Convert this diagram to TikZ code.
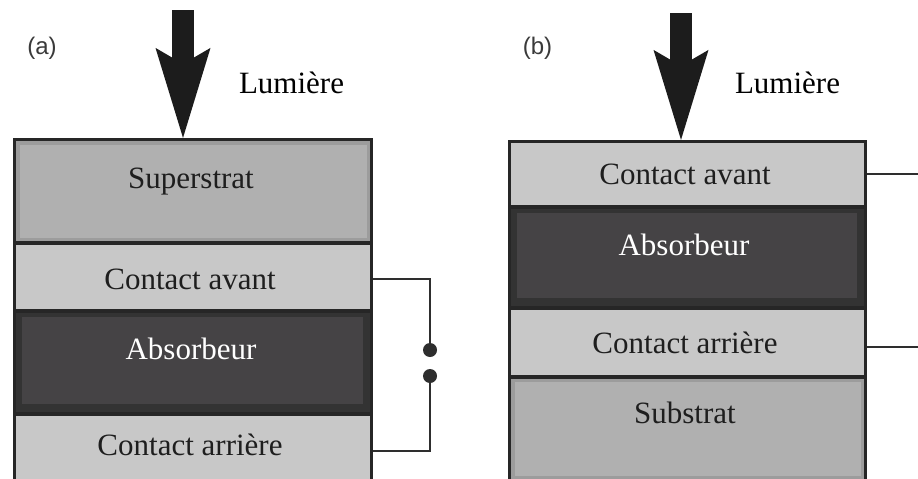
\documentclass[tikz,border=0pt]{standalone}
\usepackage{fontspec}
\setmainfont{Liberation Serif}
\newfontfamily\labfont{Liberation Sans}
\usetikzlibrary{arrows.meta,fit}
\definecolor{bord}{HTML}{262626}
\definecolor{subband}{HTML}{9C9C9C}
\definecolor{subin}{HTML}{B0B0B0}
\definecolor{contc}{HTML}{C8C8C8}
\definecolor{absband}{HTML}{333333}
\definecolor{absin}{HTML}{454345}
\definecolor{wirec}{HTML}{2E2E2E}
\definecolor{arrowc}{HTML}{1C1C1C}
\definecolor{textc}{HTML}{1E1E1E}
\definecolor{panelc}{HTML}{3A3A3A}
\tikzset{
  layer/.style={draw=bord, line width=3.2pt, inner sep=0pt},
  sublayer/.style={layer, fill=subband,
    path picture={\fill[subin] ([shift={(5pt,-5pt)}]path picture bounding box.north west) rectangle ([shift={(-5pt,5pt)}]path picture bounding box.south east);}},
  contlayer/.style={layer, fill=contc},
  abslayer/.style={layer, fill=absband,
    path picture={\fill[absin] ([shift={(7pt,-6pt)}]path picture bounding box.north west) rectangle ([shift={(-9pt,10pt)}]path picture bounding box.south east);}},
  txt/.style={anchor=base, inner sep=0pt, text=textc, font=\fontsize{31}{36}\selectfont},
  wtxt/.style={txt, text=white},
  panel/.style={anchor=base, inner sep=0pt, text=panelc, font=\labfont\fontsize{24}{28}\selectfont},
  wire/.style={draw=wirec, line width=2.2pt},
  dotnode/.style={circle, fill=wirec, minimum size=14pt, inner sep=0pt},
  lightarrow/.style={draw=arrowc, line width=22pt,
    -{Stealth[length=90pt, width=55pt, inset=16pt, line width=0pt]}}
}
\begin{document}
\begin{tikzpicture}[x=1pt,y=-1pt]
\clip (0,0) rectangle (918,479);
\fill[white] (0,0) rectangle (918,479);

% ---------- panel (a) ----------
\node[panel] (pa) at (42,54) {(a)};
\node[sublayer, fit={(14.5,139.5) (371.5,243)}] (a1) {};
\node[contlayer, fit={(14.5,243) (371.5,311)}] (a2) {};
\node[abslayer, fit={(14.5,311) (371.5,414)}] (a3) {};
\node[contlayer, fit={(14.5,414) (371.5,488)}] (a4) {};

\node[txt] (a1t) at (191,188) {Superstrat};
\node[txt] (a2t) at (190,289) {Contact avant};
\node[wtxt] (a3t) at (191,359) {Absorbeur};
\node[txt] (a4t) at (190,455) {Contact arrière};

\coordinate (la) at (183,10);
\draw[lightarrow] (la) -- (la |- a1.north);
\node[txt, text=black] (lum1) at (291.5,93) {Lumière};

\node[dotnode] (d1) at (430,350) {};
\node[dotnode] (d2) at (430,376) {};
\draw[wire] ([yshift=-2pt]a2.east) -| (d1);
\draw[wire] (a4.east) -| (d2);

% ---------- panel (b) ----------
\node[panel] (pb) at (537.5,54) {(b)};
\node[contlayer, fit={(509.5,141.5) (865.5,207)}] (b1) {};
\node[abslayer, fit={(509.5,207) (865.5,308)}] (b2) {};
\node[contlayer, fit={(509.5,308) (865.5,377)}] (b3) {};
\node[sublayer, fit={(509.5,377) (865.5,481)}] (b4) {};

\node[txt] (b1t) at (685,184) {Contact avant};
\node[wtxt] (b2t) at (684,255) {Absorbeur};
\node[txt] (b3t) at (685,353) {Contact arrière};
\node[txt] (b4t) at (685,423) {Substrat};

\coordinate (lb) at (681,13);
\draw[lightarrow] (lb) -- (lb |- b1.north);
\node[txt, text=black] (lum2) at (787.5,93) {Lumière};

\coordinate (e1) at (930,174);
\coordinate (e2) at (930,347);
\draw[wire] (b1.east) -- (b1.east -| e1);
\draw[wire] ([yshift=-4.5pt]b3.east) -- (e2);
\end{tikzpicture}
\end{document}
